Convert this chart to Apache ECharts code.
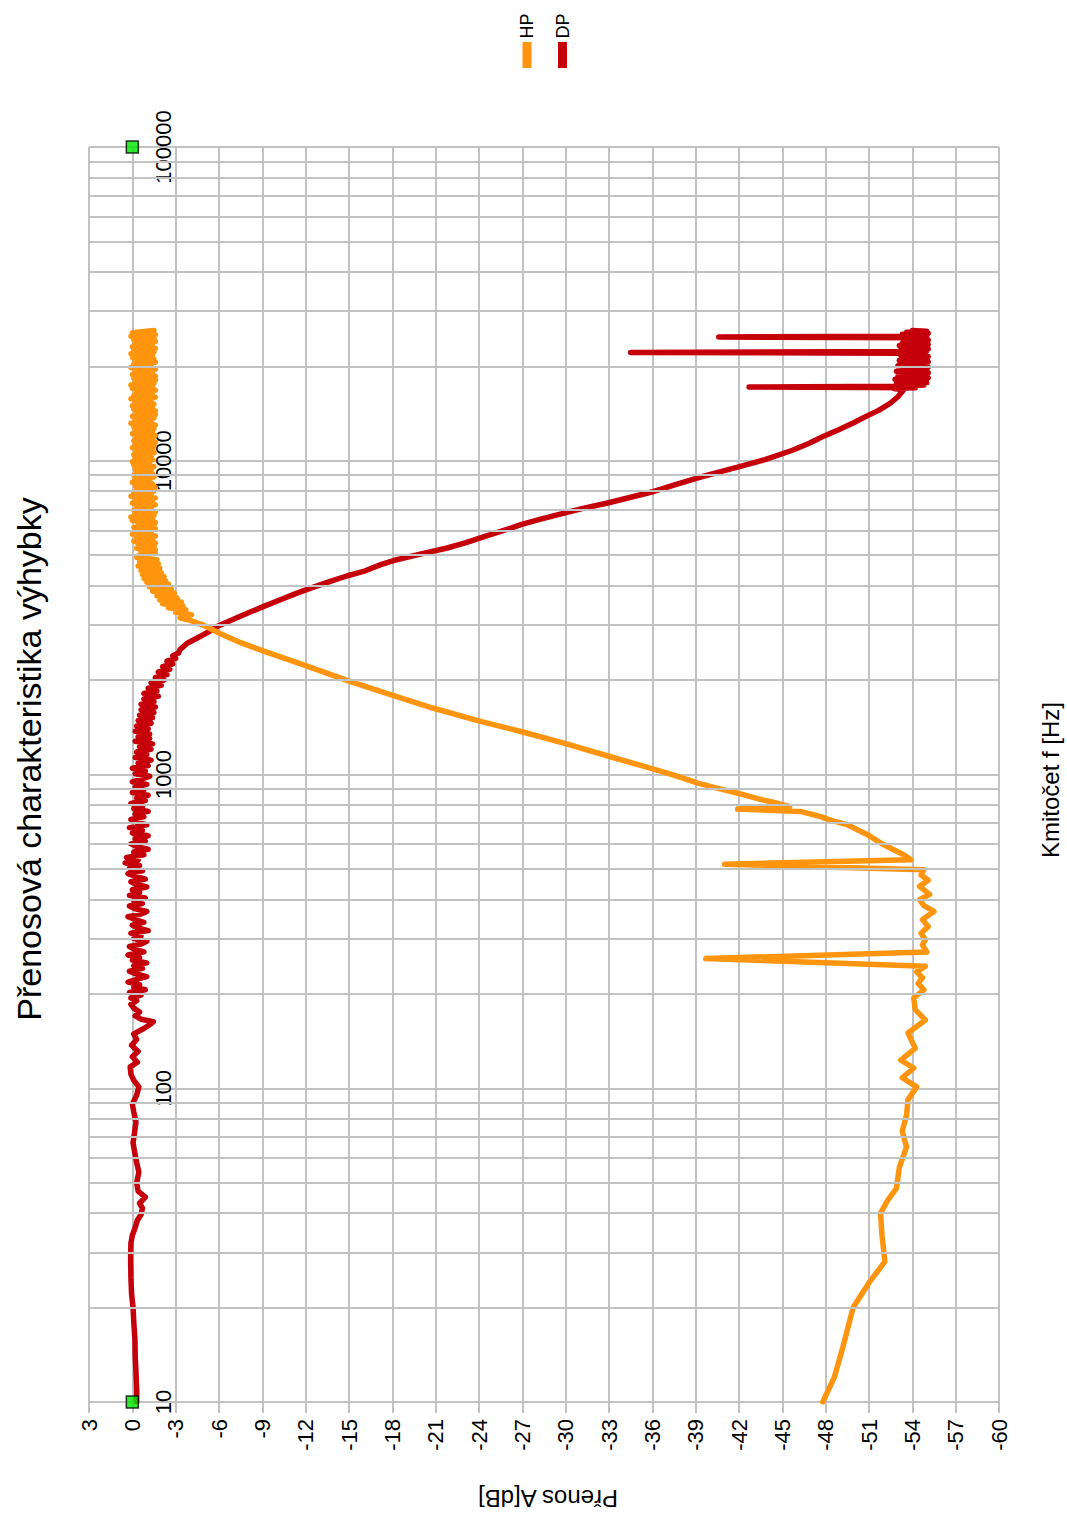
<!DOCTYPE html>
<html>
<head>
<meta charset="utf-8">
<script src="https://cdn.jsdelivr.net/npm/echarts@6/dist/echarts.min.js"></script>
<style>
  html, body { margin: 0; padding: 0; background: #fff; }
  #chart { width: 1067px; height: 1517px; }
</style>
</head>
<body>
<div id="chart"></div>
<script>
// Crossover transfer characteristic: gain [dB] vs frequency [Hz], page turned on its side
const titleText = 'Přenosová charakteristika výhybky';
const freqAxisName = 'Kmitočet f [Hz]';
const gainAxisName = 'Přenos A[dB]';
const seriesNames = ['HP', 'DP'];

const gainMin = -60, gainMax = 3, gainStep = 3;
const freqMin = 10, freqMax = 100000;

// intermediate log grid lines (2..9 of every decade)
const minorFreqLines = [20, 30, 40, 50, 60, 70, 80, 90,
  200, 300, 400, 500, 600, 700, 800, 900,
  2000, 3000, 4000, 5000, 6000, 7000, 8000, 9000,
  20000, 30000, 40000, 50000, 60000, 70000, 80000, 90000];

// 0 dB reference markers at the ends of the frequency range
const refPoints = [[10, 0], [100000, 0]];

// high-pass branch: [frequency Hz, gain dB]
const hpPoints = [
  [10, -47.8], [12, -48.6], [15, -49.2], [20, -49.9], [24, -51.0], [28, -52.1], [34, -51.9],
  [40, -51.8], [44, -52.3], [48, -52.9], [56, -53.1], [65, -53.6], [73, -53.3], [82, -53.6],
  [92, -53.7], [101, -54.3], [108, -53.3], [116, -54.1], [123, -53.2], [134, -54.2], [150, -53.7],
  [165, -54.9], [178, -54.2], [194, -54.1], [206, -54.8], [216, -54.4], [225, -54.7], [235, -54.3],
  [245, -54.9], [259, -39.7], [272, -55.0], [286, -54.7], [298, -54.9], [312, -54.6], [328, -55.1],
  [345, -54.7], [366, -55.5], [382, -54.8], [399, -54.5], [415, -55.2], [440, -54.5], [460, -55.1],
  [478, -54.6], [497, -54.8], [518, -41.0], [535, -53.9], [555, -53.4], [576, -52.7], [605, -51.8],
  [643, -50.9], [692, -49.5], [712, -48.5], [735, -47.6], [762, -46.3], [776, -41.9], [790, -45.5],
  [811, -44.6], [835, -43.4], [863, -42.3], [907, -40.4], [941, -39.1], [991, -37.6], [1059, -35.5],
  [1139, -33.1], [1254, -30.0], [1371, -26.9], [1477, -24.1], [1629, -20.8], [1770, -18.3],
  [1976, -15.1], [2223, -12.0], [2463, -9.2], [2631, -7.5], [2811, -6.1], [2981, -5.0],
  [3100, -4.0], [3160, -3.3], [3230, -4.1], [3290, -3.0], [3352, -3.7], [3400, -2.5], [3450, -3.5],
  [3500, -2.1], [3550, -3.4], [3600, -1.9], [3650, -3.1], [3710, -1.7], [3786, -2.9], [3840, -1.4],
  [3900, -2.7], [3960, -1.2], [4050, -2.5], [4100, -1.0], [4150, -2.3], [4210, -0.8], [4276, -2.2],
  [4340, -0.7], [4400, -2.0], [4470, -0.6], [4550, -1.9], [4620, -0.4], [4700, -1.8], [4770, -0.5],
  [4839, -1.7], [4920, -0.3],
  [5000, -0.5], [5065, -1.6], [5130, -0.6], [5195, -1.6], [5260, -0.3], [5330, -1.5], [5400, -0.4],
  [5470, -1.6], [5540, -0.1], [5610, -1.4], [5680, -0.3], [5755, -1.6], [5830, 0.0], [5905, -1.3],
  [5980, -0.2], [6055, -1.6], [6130, -0.1], [6210, -1.5], [6290, -0.4], [6370, -1.6], [6450, 0.0],
  [6535, -1.4], [6620, 0.1], [6705, -1.5], [6790, -0.2], [6875, -1.6], [6960, -0.1], [7050, -1.3],
  [7140, -0.3], [7235, -1.6], [7330, 0.0], [7425, -1.4], [7520, -0.2], [7615, -1.6], [7710, 0.1],
  [7810, -1.3], [7910, -0.1], [8010, -1.5], [8110, -0.3], [8215, -1.6], [8320, -0.2], [8430, -1.4],
  [8540, 0.0], [8650, -1.2], [8760, -0.2], [8870, -1.5], [8980, -0.1], [9095, -1.4], [9210, -0.3],
  [9330, -1.3], [9450, -0.2], [9575, -1.5], [9700, -0.1], [9825, -1.2], [9950, 0.0], [10075, -1.4],
  [10200, -0.2], [10335, -1.3], [10470, -0.1], [10605, -1.5], [10740, -0.3], [10875, -1.4],
  [11010, 0.0], [11155, -1.5], [11300, -0.2], [11445, -1.6], [11590, -0.1], [11740, -1.4],
  [11890, -0.3], [12045, -1.6], [12200, 0.0], [12355, -1.4], [12510, -0.2], [12675, -1.5],
  [12840, -0.1], [13005, -1.6], [13170, 0.1], [13340, -1.3], [13510, -0.2], [13685, -1.5],
  [13860, 0.0], [14040, -1.6], [14220, -0.3], [14405, -1.6], [14590, -0.1], [14775, -1.4],
  [14960, 0.0], [15155, -1.5], [15350, -0.2], [15550, -1.3], [15750, 0.1], [15950, -1.6],
  [16150, -0.1], [16360, -1.4], [16570, -0.3], [16785, -1.6], [17000, 0.0], [17220, -1.4],
  [17440, 0.1], [17665, -1.5], [17890, -0.2], [18120, -1.6], [18350, -0.1], [18590, -1.6],
  [18830, 0.0], [19070, -1.4], [19310, -0.2], [19560, -1.6], [19810, 0.1], [20070, -1.3],
  [20330, -0.1], [20590, -1.6], [20850, -0.2], [21120, -1.5], [21390, 0.0], [21670, -1.4],
  [21950, 0.1], [22230, -1.5], [22510, -0.1], [22805, -1.6], [23100, 0.0], [23395, -1.4],
  [23690, -0.2], [23995, -1.6], [24300, -0.1], [24615, -1.5], [24930, 0.1], [25255, -1.6],
  [25580, 0.0], [26000, -1.5]
];

// low-pass branch: [frequency Hz, gain dB]
const dpPoints = [
  [10, -0.3], [11, -0.3], [12.5, -0.25], [14, -0.2], [15.8, -0.18], [18, -0.1], [20, -0.05],
  [22, 0.05], [25, 0.1], [28.4, 0.12], [32, 0.1], [34, 0.0], [36, -0.2], [38, -0.35], [39.5, -0.6],
  [41.5, -0.7], [43, -0.5], [45, -0.9], [47, -0.4], [50, -0.3], [54, -0.45], [58, -0.3], [63, -0.15],
  [67, -0.05], [72, -0.15], [78, -0.25], [84, -0.1], [89, 0.0], [95, -0.3], [101, -0.45], [106, -0.1],
  [111, 0.1], [117, 0.15], [121, -0.35], [126, 0.0], [131, -0.4], [137, 0.05], [143, -0.3],
  [149, -0.1], [155, -0.8], [160, -1.25], [163, -1.45], [166, -0.6], [170, -0.2], [175, -0.5],
  [180, -0.1], [185, 0.1],
  [190, -0.3], [194, 0.1], [198, -0.6], [202, 0.2], [206, -0.9], [210, -0.1], [214, -0.5], [218, 0.3],
  [223, -0.4], [227, -1.0], [232, -0.2], [236, 0.2], [241, -0.7], [246, -0.1], [251, -1.0], [256, 0.0],
  [261, -0.5], [266, 0.3], [272, -0.8], [277, -0.2], [283, 0.2], [288, -0.6], [294, -1.0], [300, -0.1],
  [306, -0.6], [312, 0.1], [318, -1.1], [325, -0.3], [331, 0.0], [338, -0.8], [345, -0.2], [352, 0.3],
  [359, -0.6], [366, -1.0], [373, -0.2], [381, 0.2], [388, -0.7], [396, -0.1], [404, -0.9], [412, 0.2],
  [421, -0.5], [429, 0.0], [438, -1.0], [446, -0.3], [455, 0.1], [464, -0.9], [474, -0.2], [483, 0.3],
  [493, -0.7], [503, 0.2], [513, -0.5], [523, 0.5], [534, -0.4], [544, 0.4], [555, -0.8], [566, -0.1],
  [578, -1.1], [589, -0.3], [601, 0.1], [613, -0.9], [625, -0.2], [638, -1.1], [651, 0.0], [664, -0.7],
  [677, 0.2], [691, -1.0], [704, -0.4], [719, 0.1], [733, -0.8], [748, -0.2], [763, -1.1], [778, -0.1],
  [793, -0.7], [809, 0.1], [826, -0.9], [842, -0.3], [859, -1.1], [876, 0.0], [894, -0.8], [912, -0.2],
  [930, -1.0], [948, 0.0], [967, -0.6], [987, -1.2], [1006, -0.2], [1027, -0.9], [1047, 0.0],
  [1068, -1.1], [1089, -0.4], [1111, -1.3], [1133, -0.2], [1156, -1.0], [1179, -0.3], [1203, -1.3],
  [1227, -0.5], [1252, -1.4], [1277, -0.2], [1302, -1.2], [1320, -0.4],
  [1346, -1.2], [1373, -0.2], [1400, -1.1], [1428, -0.3], [1457, -1.3], [1486, -0.4], [1516, -1.4],
  [1546, -0.5], [1577, -1.5], [1609, -0.6], [1641, -1.6], [1674, -0.6], [1707, -1.5], [1741, -0.8],
  [1776, -1.8], [1812, -0.8], [1848, -1.7], [1885, -1.1], [1923, -2.0], [1961, -1.3], [2000, -2.2],
  [2040, -1.6], [2081, -2.4], [2123, -1.8], [2165, -2.6], [2208, -2.1], [2252, -2.8], [2298, -2.4],
  [2344, -3.0], [2390, -2.8], [2438, -3.2], [2500, -3.3],
  [2620, -3.8], [2723, -4.5], [2850, -5.3], [2966, -5.9], [3152, -7.2], [3300, -8.2], [3434, -9.1],
  [3600, -10.2], [3786, -11.4], [3950, -12.5], [4126, -13.7], [4300, -14.9], [4438, -16.0],
  [4664, -17.2], [4837, -18.3], [5050, -20.0], [5272, -21.8], [5480, -23.1], [5700, -24.2],
  [5950, -25.5], [6254, -26.9], [6500, -28.2], [6812, -29.9], [7050, -31.2], [7333, -32.9],
  [7650, -34.5], [7982, -36.1], [8400, -37.6], [8810, -39.1], [9200, -40.6], [9593, -42.1],
  [10080, -43.8], [10800, -45.7], [11390, -46.9], [12000, -47.9], [12560, -48.9], [13200, -49.9],
  [13850, -50.8], [14500, -51.7], [15280, -52.5], [16000, -53.0],
  [16850, -53.4], [17000, -52.7], [17080, -54.2], [17180, -42.7], [17280, -53.0], [17450, -54.8],
  [17600, -52.9], [17750, -55.0], [17900, -53.1], [18050, -54.9], [18200, -52.8], [18400, -55.1],
  [18580, -53.0], [18750, -54.8], [18900, -53.3], [19100, -55.1], [19300, -52.9], [19500, -55.0],
  [19700, -53.2], [19900, -55.1], [20100, -53.0], [20300, -54.9], [20500, -53.3], [20700, -55.1],
  [20900, -53.1], [21100, -55.0], [21300, -53.4], [21500, -55.1], [21700, -53.2], [21850, -54.9],
  [22000, -53.3], [22140, -34.5], [22280, -53.4], [22450, -55.0], [22600, -53.2], [22750, -55.1],
  [22900, -53.4], [23100, -55.0], [23300, -53.1], [23500, -55.1], [23700, -53.3], [23900, -55.0],
  [24100, -53.4], [24300, -55.1], [24500, -53.5], [24650, -54.8], [24800, -40.6], [24950, -53.4],
  [25100, -55.0], [25300, -53.3], [25500, -55.1], [25700, -53.6], [25850, -55.0], [26000, -54.0]
];

const FONT = '"Liberation Sans", Arial, sans-serif';
const GRID_COLOR = '#c2c2c2';
const HP_COLOR = '#ff950e';
const DP_COLOR = '#c5000b';

// plot rectangle
const GRID = { left: 89, right: 68, top: 147, bottom: 115 };
const plotWidth = 1067 - GRID.left - GRID.right;
// the frequency axis crosses the gain axis at 0 dB
const freqAxisOffset = -((0 - gainMin) / (gainMax - gainMin)) * plotWidth;

// frequency on the vertical axis, gain on the horizontal axis
const toXY = pts => pts.map(([f, g]) => [g, f]);

const chart = echarts.init(document.getElementById('chart'), null, { renderer: 'svg' });

chart.setOption({
  animation: false,
  backgroundColor: '#ffffff',
  grid: Object.assign({ containLabel: false }, GRID),
  xAxis: {
    type: 'value',
    min: gainMin,
    max: gainMax,
    interval: gainStep,
    inverse: true,
    axisLine: { show: true, onZero: false, lineStyle: { color: GRID_COLOR, width: 2 } },
    axisTick: { show: true, length: 11, lineStyle: { color: GRID_COLOR, width: 2 } },
    axisLabel: {
      rotate: 90, margin: 17, color: '#000',
      fontFamily: FONT, fontSize: 22,
      showMinLabel: true, showMaxLabel: true
    },
    splitLine: { show: true, lineStyle: { color: GRID_COLOR, width: 2 } }
  },
  yAxis: {
    type: 'log',
    logBase: 10,
    min: freqMin,
    max: freqMax,
    splitNumber: 4,
    position: 'right',
    offset: freqAxisOffset,
    axisLine: { show: true, onZero: false, lineStyle: { color: GRID_COLOR, width: 2 } },
    axisTick: { show: false },
    axisLabel: {
      rotate: 90, margin: 20, color: '#000',
      fontFamily: FONT, fontSize: 22,
      formatter: v => String(Math.round(v))
    },
    splitLine: { show: true, lineStyle: { color: GRID_COLOR, width: 2 } }
  },
  graphic: [
    {
      type: 'text', x: 29, y: 759, rotation: Math.PI / 2, silent: true,
      style: { text: titleText, fill: '#000', fontFamily: FONT, fontSize: 34, align: 'center', verticalAlign: 'middle' }
    },
    {
      type: 'text', x: 1050, y: 780, rotation: Math.PI / 2, silent: true,
      style: { text: freqAxisName, fill: '#000', fontFamily: FONT, fontSize: 24, align: 'center', verticalAlign: 'middle' }
    },
    {
      type: 'text', x: 548, y: 1498, rotation: Math.PI, silent: true,
      style: { text: gainAxisName, fill: '#000', fontFamily: FONT, fontSize: 24, align: 'center', verticalAlign: 'middle' }
    },
    // legend, turned with the rest of the page
    { type: 'rect', silent: true, shape: { x: 522.5, y: 42, width: 9, height: 26 }, style: { fill: HP_COLOR } },
    { type: 'rect', silent: true, shape: { x: 558, y: 42, width: 9, height: 26 }, style: { fill: DP_COLOR } },
    {
      type: 'text', x: 527, y: 26, rotation: Math.PI / 2, silent: true,
      style: { text: seriesNames[0], fill: '#000', fontFamily: FONT, fontSize: 18, align: 'center', verticalAlign: 'middle' }
    },
    {
      type: 'text', x: 562.5, y: 26, rotation: Math.PI / 2, silent: true,
      style: { text: seriesNames[1], fill: '#000', fontFamily: FONT, fontSize: 18, align: 'center', verticalAlign: 'middle' }
    }
  ],
  series: [
    {
      // helper carrying the 2..9 log grid lines
      type: 'line', name: 'grid', data: [], silent: true, z: 1,
      markLine: {
        silent: true, symbol: ['none', 'none'], animation: false,
        label: { show: false },
        lineStyle: { color: GRID_COLOR, width: 2, type: 'solid' },
        data: minorFreqLines.map(f => ({ yAxis: f }))
      }
    },
    {
      type: 'line', name: seriesNames[1], data: toXY(dpPoints), z: 3,
      showSymbol: false, symbol: 'none', smooth: false,
      lineStyle: { color: DP_COLOR, width: 5.5, join: 'round', cap: 'round' },
      itemStyle: { color: DP_COLOR }
    },
    {
      type: 'line', name: seriesNames[0], data: toXY(hpPoints), z: 4,
      showSymbol: false, symbol: 'none', smooth: false,
      lineStyle: { color: HP_COLOR, width: 5.5, join: 'round', cap: 'round' },
      itemStyle: { color: HP_COLOR }
    },
    {
      type: 'scatter', name: 'ref', data: toXY(refPoints), z: 5, clip: false,
      symbol: 'rect', symbolSize: 12,
      itemStyle: { color: '#00e600', borderColor: '#000', borderWidth: 1.5 }
    }
  ]
});
</script>
</body>
</html>
